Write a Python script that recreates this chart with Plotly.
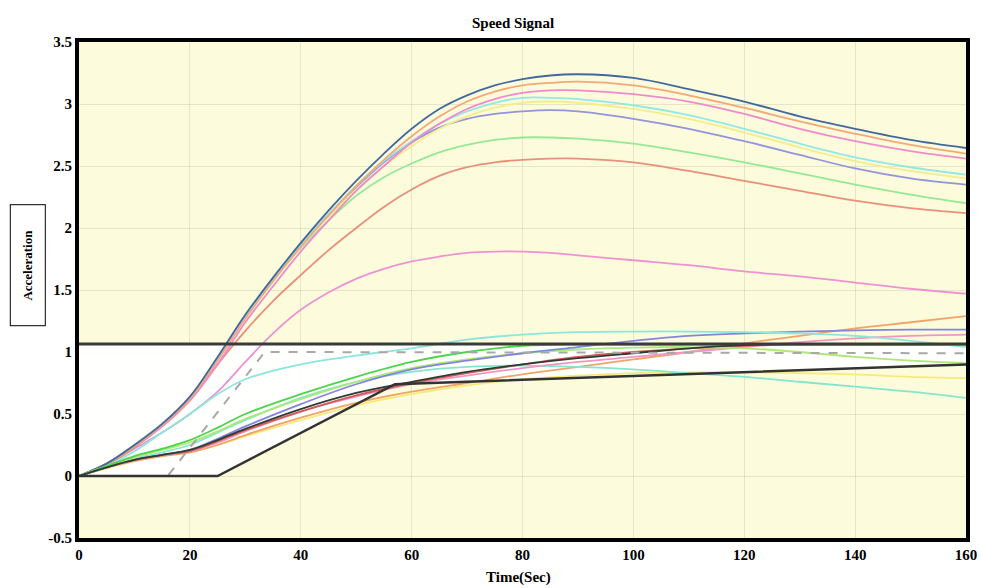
import plotly.graph_objects as go

# ---------------- data ----------------
X_UP = [0, 5, 10, 15, 20, 25, 30, 35, 40, 45, 50, 55, 60, 65, 70, 75, 80, 85, 90,
        100, 110, 120, 130, 140, 150, 160]

blue_top = [0, 0.10, 0.25, 0.42, 0.64, 0.96, 1.30, 1.60, 1.88, 2.14, 2.38, 2.60, 2.80, 2.96,
            3.07, 3.15, 3.20, 3.23, 3.24, 3.21, 3.12, 3.02, 2.90, 2.80, 2.71, 2.645]
orange_up = [0, 0.10, 0.24, 0.41, 0.62, 0.93, 1.27, 1.57, 1.85, 2.10, 2.34, 2.55, 2.74, 2.90,
             3.02, 3.10, 3.15, 3.17, 3.18, 3.15, 3.07, 2.97, 2.86, 2.76, 2.67, 2.60]
pink_up = [0, 0.10, 0.24, 0.40, 0.61, 0.90, 1.24, 1.53, 1.81, 2.06, 2.30, 2.50, 2.69, 2.84,
           2.96, 3.04, 3.09, 3.11, 3.11, 3.08, 3.02, 2.92, 2.80, 2.70, 2.62, 2.56]
cyan_up = [0, 0.10, 0.25, 0.42, 0.63, 0.95, 1.29, 1.59, 1.86, 2.11, 2.34, 2.54, 2.70, 2.84,
           2.94, 3.01, 3.05, 3.05, 3.04, 2.99, 2.91, 2.80, 2.68, 2.57, 2.49, 2.43]
yellow_up = [0, 0.10, 0.25, 0.42, 0.63, 0.94, 1.28, 1.58, 1.85, 2.09, 2.31, 2.50, 2.66, 2.80,
             2.90, 2.97, 3.01, 3.02, 3.01, 2.96, 2.88, 2.77, 2.65, 2.54, 2.46, 2.40]
purple_up = [0, 0.10, 0.25, 0.42, 0.63, 0.95, 1.29, 1.59, 1.86, 2.11, 2.33, 2.53, 2.69, 2.81,
             2.88, 2.92, 2.94, 2.95, 2.94, 2.88, 2.80, 2.70, 2.59, 2.48, 2.40, 2.35]
green_up = [0, 0.10, 0.25, 0.42, 0.63, 0.94, 1.28, 1.58, 1.84, 2.06, 2.26, 2.41, 2.52, 2.61,
            2.67, 2.71, 2.73, 2.73, 2.72, 2.68, 2.61, 2.53, 2.44, 2.35, 2.27, 2.20]
salmon_up = [0, 0.09, 0.23, 0.40, 0.61, 0.90, 1.17, 1.41, 1.62, 1.82, 2.00, 2.17, 2.31, 2.42,
             2.49, 2.53, 2.55, 2.56, 2.56, 2.53, 2.46, 2.38, 2.30, 2.22, 2.16, 2.12]
pink_mid = [0, 0.09, 0.22, 0.35, 0.50, 0.68, 0.92, 1.15, 1.34, 1.48, 1.59, 1.67, 1.73, 1.77,
            1.80, 1.81, 1.81, 1.80, 1.78, 1.74, 1.70, 1.65, 1.61, 1.56, 1.51, 1.47]

X_LOW = [0, 5, 10, 15, 20, 25, 30, 40, 50, 60, 70, 80, 90, 100, 110, 120, 130, 140, 150, 160]

cyan_a = [0, 0.08, 0.20, 0.35, 0.50, 0.66, 0.78, 0.90, 0.97, 1.03, 1.10, 1.14, 1.16, 1.165,
          1.165, 1.16, 1.15, 1.13, 1.09, 1.04]
cyan_b = [0, 0.07, 0.14, 0.19, 0.25, 0.35, 0.45, 0.63, 0.76, 0.84, 0.88, 0.89, 0.88, 0.86,
          0.83, 0.80, 0.76, 0.72, 0.68, 0.63]
green_low = [0, 0.08, 0.16, 0.22, 0.29, 0.39, 0.50, 0.66, 0.80, 0.92, 1.00, 1.05, 1.06, 1.06,
             1.06, 1.06, 1.06, 1.06, 1.06, 1.06]
lime_low = [0, 0.08, 0.15, 0.21, 0.27, 0.36, 0.46, 0.62, 0.76, 0.87, 0.94, 0.99, 1.02, 1.035,
            1.04, 1.03, 1.00, 0.96, 0.93, 0.91]
purple_low = [0, 0.07, 0.13, 0.17, 0.21, 0.30, 0.40, 0.58, 0.74, 0.86, 0.93, 0.99, 1.04, 1.09,
              1.13, 1.15, 1.165, 1.175, 1.18, 1.18]
dark_low = [0, 0.07, 0.13, 0.17, 0.21, 0.29, 0.38, 0.54, 0.67, 0.76, 0.84, 0.90, 0.95, 0.99,
            1.03, 1.055, 1.065, 1.065, 1.065, 1.065]
pink_low = [0, 0.07, 0.13, 0.17, 0.20, 0.27, 0.36, 0.52, 0.64, 0.74, 0.81, 0.87, 0.92, 0.96,
            1.00, 1.04, 1.08, 1.11, 1.13, 1.14]
orange_low = [0, 0.07, 0.12, 0.16, 0.19, 0.25, 0.33, 0.47, 0.59, 0.68, 0.75, 0.82, 0.88, 0.94,
              1.00, 1.07, 1.13, 1.19, 1.24, 1.29]
red_low = [0, 0.07, 0.13, 0.17, 0.20, 0.28, 0.37, 0.52, 0.65, 0.75, 0.83, 0.90, 0.96, 1.00,
           1.03, 1.05, 1.06, 1.06, 1.06, 1.06]
yellow_low = [0, 0.06, 0.12, 0.16, 0.19, 0.25, 0.32, 0.45, 0.57, 0.66, 0.73, 0.78, 0.81, 0.83,
              0.835, 0.835, 0.83, 0.82, 0.80, 0.79]

# reference (dashed) and envelope bounds
ref_x = [0, 16, 33.5, 160]
ref_y = [0, 0, 1.0, 0.99]
lower_x = [0, 25, 57, 160]
lower_y = [0, 0, 0.74, 0.90]
upper_x = [0, 160]
upper_y = [1.065, 1.065]

x_ticks = [0, 20, 40, 60, 80, 100, 120, 140, 160]
y_ticks = [-0.5, 0, 0.5, 1, 1.5, 2, 2.5, 3, 3.5]

# ---------------- figure ----------------
fig = go.Figure()

# white envelope band
fig.add_trace(go.Scatter(x=lower_x, y=lower_y, mode="lines",
                         line=dict(width=0, color="rgba(0,0,0,0)"), showlegend=False,
                         hoverinfo="skip"))
fig.add_trace(go.Scatter(x=upper_x, y=upper_y, mode="lines", fill="tonexty",
                         fillcolor="rgba(255,255,255,0.92)",
                         line=dict(width=0, color="rgba(0,0,0,0)"), showlegend=False,
                         hoverinfo="skip"))

upper_series = [
    (pink_mid, "#EE92D2"),
    (salmon_up, "#E8907C"),
    (green_up, "#96E896"),
    (purple_up, "#9494DA"),
    (yellow_up, "#F2EE8C"),
    (cyan_up, "#94E8E4"),
    (pink_up, "#F08ACC"),
    (orange_up, "#F2A878"),
    (blue_top, "#41699F"),
]
for ys, col in upper_series:
    fig.add_trace(go.Scatter(x=X_UP, y=ys, mode="lines", line=dict(color=col, width=1.8,
                             shape="spline"), showlegend=False))

lower_series = [
    (yellow_low, "#F6EA78"),
    (orange_low, "#F2A468"),
    (cyan_b, "#86E6CC"),
    (pink_low, "#F096C6"),
    (red_low, "#D25A5A"),
    (lime_low, "#AEE878"),
    (purple_low, "#8484DE"),
    (cyan_a, "#8CE6DC"),
    (green_low, "#4CD44C"),
    (dark_low, "#2E3C32"),
]
for ys, col in lower_series:
    fig.add_trace(go.Scatter(x=X_LOW, y=ys, mode="lines", line=dict(color=col, width=1.8,
                             shape="spline"), showlegend=False))

fig.add_trace(go.Scatter(x=ref_x, y=ref_y, mode="lines",
                         line=dict(color="#A8A8A8", width=2, dash="dash"), showlegend=False))
fig.add_trace(go.Scatter(x=lower_x, y=lower_y, mode="lines",
                         line=dict(color="#333333", width=2.5), showlegend=False))
fig.add_trace(go.Scatter(x=upper_x, y=upper_y, mode="lines",
                         line=dict(color="#3A3A3A", width=3), showlegend=False))

tick_font = dict(family="Liberation Serif", size=15, color="black")

fig.update_layout(
    width=981, height=588,
    margin=dict(l=79, r=15, t=42, b=50),
    paper_bgcolor="white",
    plot_bgcolor="#FCFBDC",
    title=dict(text="<b>Speed Signal</b>", x=0.523, xanchor="center", y=0.962,
               yanchor="middle", font=dict(family="Liberation Serif", size=15, color="black")),
    xaxis=dict(range=[0, 160], tickvals=x_ticks, ticktext=[f"<b>{v}</b>" for v in x_ticks],
               tickfont=tick_font, showgrid=True, gridcolor="rgba(190,190,160,0.35)",
               zeroline=False, showline=True, linecolor="black", linewidth=4, mirror=True,
               ticks="", automargin=False),
    yaxis=dict(range=[-0.5, 3.5], tickvals=y_ticks, ticktext=[f"<b>{v:g}</b>" for v in y_ticks],
               tickfont=tick_font, showgrid=True, gridcolor="rgba(190,190,160,0.35)",
               zeroline=False, showline=True, linecolor="black", linewidth=4, mirror=True,
               ticks="", automargin=False),
    annotations=[
        dict(text="<b>Time(Sec)</b>", xref="paper", yref="paper", x=0.495, y=-0.08,
             xanchor="center", yanchor="middle", showarrow=False,
             font=dict(family="Liberation Serif", size=15, color="black")),
        dict(text="<b>Acceleration</b>", xref="paper", yref="paper", x=-0.0575, y=0.55,
             xanchor="center", yanchor="middle", showarrow=False, textangle=-90,
             width=118, height=32, bordercolor="black", borderwidth=1, bgcolor="white",
             font=dict(family="Liberation Serif", size=13, color="black")),
    ],
)

fig.write_html("out.html", config={"displayModeBar": False},
               post_script="document.body.style.margin='0';document.body.style.padding='0';")
